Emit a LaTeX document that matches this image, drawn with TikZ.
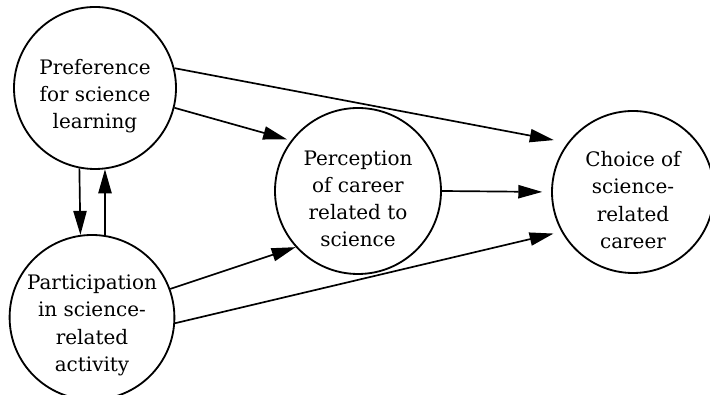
\documentclass[tikz,border=0pt]{standalone}
\usepackage{fontspec}
\setmainfont{DejaVu Serif}
\usetikzlibrary{arrows.meta}

\begin{document}
\begin{tikzpicture}[
  bubble/.style={circle,draw,line width=1.3pt,inner sep=0pt},
  caption/.style={align=center,font=\fontsize{14.2}{19.3}\selectfont,yshift=-0.2cm},
  link/.style={line width=1.2pt,-{Triangle[length=6mm,width=3.3mm]}}
]
\useasboundingbox (0,0) rectangle (17.75,9.875);
% the four factors
\node[bubble,minimum size=4.05cm,label={[caption]center:{Preference\\for science\\learning}}] (pref) at (2.375,7.675) {};
\node[bubble,minimum size=4.12cm,label={[caption]center:{Participation\\in science-\\related\\activity}}] (part) at (2.3,1.94) {};
\node[bubble,minimum size=4.15cm,label={[caption]center:{Perception\\of career\\related to\\science}}] (perc) at (8.95,5.1) {};
\node[bubble,minimum size=4.05cm,label={[caption]center:{Choice of\\science-\\related\\career}}] (choice) at (15.825,5.075) {};
% paths
\draw[link] (pref.-101) -- (part.98.7);
\draw[link] (part.81) -- (pref.-83);
\draw[link,shorten >=1mm] (pref.-14) -- (perc.143);
\draw[link,shorten >=3.5mm] (pref.14) -- (choice.143);
\draw[link,shorten >=2.2mm] (perc.0) -- (choice.180);
\draw[link] (part.20) -- (perc.222);
\draw[link,shorten >=2mm] (part.-4) -- (choice.209);
\end{tikzpicture}
\end{document}
